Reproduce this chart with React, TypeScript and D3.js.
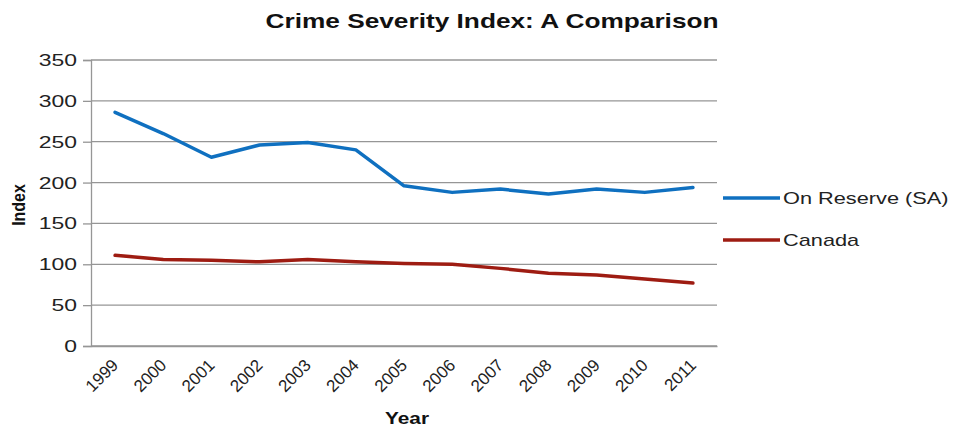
import { useEffect, useRef } from 'react';
import * as d3 from 'd3';

const years = ['1999', '2000', '2001', '2002', '2003', '2004', '2005', '2006', '2007', '2008', '2009', '2010', '2011'];
const onReserve = [286, 260, 231, 246, 249, 240, 196, 188, 192, 186, 192, 188, 194];
const canada = [111, 106, 105, 103, 106, 103, 101, 100, 95, 89, 87, 82, 77];
const yTicks = [0, 50, 100, 150, 200, 250, 300, 350];

const seriesList = [
  { name: 'On Reserve (SA)', values: onReserve, color: '#0F70C0' },
  { name: 'Canada', values: canada, color: '#9E1C12' },
];

export default function App() {
  const svgRef = useRef<SVGSVGElement | null>(null);

  useEffect(() => {
    const el = svgRef.current;
    if (!el) return;
    d3.select(el).selectAll('*').remove();

    const W = 953;
    const H = 428;
    const margin = { top: 60, right: 236, bottom: 82, left: 91 };
    const w = W - margin.left - margin.right;
    const h = H - margin.top - margin.bottom;
    const font = 'Liberation Sans, Arial, sans-serif';
    // the reference text looks stretched sideways, so widen glyphs a bit
    const sx = 1.3;

    const svg = d3.select(el).attr('width', W).attr('height', H);

    // Title
    svg.append('text')
      .attr('transform', `translate(492,28) scale(1.25,1)`)
      .attr('text-anchor', 'middle')
      .style('font-family', font)
      .style('font-size', '21px')
      .style('font-weight', 'bold')
      .style('fill', '#111')
      .text('Crime Severity Index: A Comparison');

    const g = svg.append('g').attr('transform', `translate(${margin.left},${margin.top})`);

    const x = d3.scaleBand<string>().domain(years).range([0, w]);
    const y = d3.scaleLinear().domain([0, 350]).range([h, 0]);

    // Grid lines
    g.append('g')
      .selectAll('line')
      .data(yTicks)
      .join('line')
      .attr('x1', 0).attr('x2', w)
      .attr('y1', d => y(d)).attr('y2', d => y(d))
      .style('stroke', '#969696')
      .style('stroke-width', 1.3);

    // Y axis
    const yAxis = g.append('g').call(
      d3.axisLeft(y).tickValues(yTicks).tickSize(8).tickFormat(d3.format('d'))
    );
    yAxis.select('.domain').style('stroke', '#969696').style('stroke-width', 1.3);
    yAxis.selectAll('line').style('stroke', '#969696').style('stroke-width', 1.3);
    yAxis.selectAll('text')
      .attr('x', 0)
      .attr('transform', `translate(-14,0) scale(1.35,1)`)
      .style('font-family', font)
      .style('font-size', '17px')
      .style('fill', '#222');

    // X axis
    const xAxis = g.append('g').attr('transform', `translate(0,${h})`)
      .call(d3.axisBottom(x).tickSize(0));
    xAxis.select('.domain').style('stroke', '#969696').style('stroke-width', 1.3);
    xAxis.selectAll('text')
      .attr('y', 0)
      .attr('dy', '0.35em')
      .attr('text-anchor', 'end')
      .attr('transform', 'translate(0,16) rotate(-45)')
      .style('font-family', font)
      .style('font-size', '17px')
      .style('fill', '#222');

    // Axis titles
    svg.append('text')
      .attr('transform', 'translate(25,205) scale(1.1,1) rotate(-90)')
      .attr('text-anchor', 'middle')
      .style('font-family', font)
      .style('font-size', '16px')
      .style('font-weight', 'bold')
      .style('fill', '#111')
      .text('Index');

    svg.append('text')
      .attr('transform', `translate(407,424) scale(${sx},1)`)
      .attr('text-anchor', 'middle')
      .style('font-family', font)
      .style('font-size', '16px')
      .style('font-weight', 'bold')
      .style('fill', '#111')
      .text('Year');

    const line = d3.line<number>()
      .x((_, i) => (x(years[i]) as number) + x.bandwidth() / 2)
      .y(d => y(d));

    seriesList.forEach(s => {
      g.append('path')
        .datum(s.values)
        .attr('fill', 'none')
        .attr('stroke', s.color)
        .attr('stroke-width', 3.5)
        .attr('stroke-linejoin', 'round')
        .attr('stroke-linecap', 'round')
        .attr('d', line);
    });

    // Legend
    const legend = svg.append('g').attr('transform', 'translate(723,198)');
    seriesList.forEach((s, i) => {
      const row = legend.append('g').attr('transform', `translate(0,${i * 42})`);
      row.append('line')
        .attr('x1', 0).attr('x2', 57)
        .attr('y1', 0).attr('y2', 0)
        .attr('stroke', s.color)
        .attr('stroke-width', 3.5);
      row.append('text')
        .attr('transform', `translate(60,0) scale(1.28,1)`)
        .attr('dy', '0.35em')
        .style('font-family', font)
        .style('font-size', '17px')
        .style('fill', '#222')
        .text(s.name);
    });
  }, []);

  return <svg ref={svgRef} style={{ display: 'block', position: 'absolute', left: 0, top: 0 }} />;
}
